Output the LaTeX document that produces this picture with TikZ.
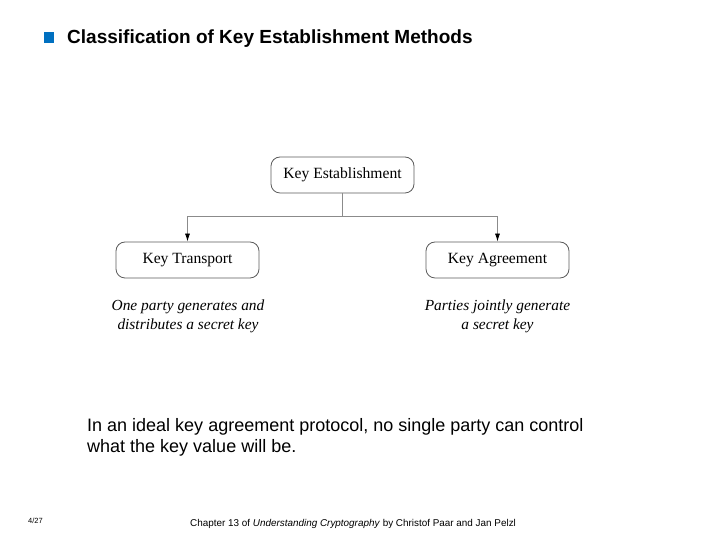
\documentclass[tikz,border=0pt]{standalone}
\usepackage{fontspec}
\setmainfont{Liberation Serif}
\setsansfont{Liberation Sans}
\usepackage{xcolor}
\usetikzlibrary{arrows.meta}
\definecolor{bulletblue}{RGB}{0,112,192}
\definecolor{boxgray}{RGB}{90,90,90}
\tikzset{
	methodbox/.style={draw=boxgray, line width=0.8pt, rounded corners=9pt, minimum width=143pt, minimum height=36pt, font=\fontsize{15.6}{18}\selectfont},
	note/.style={align=center, font=\fontsize{15.4}{19}\selectfont\itshape},
	link/.style={draw=boxgray!70, line width=0.8pt},
}

\begin{document}
\begin{tikzpicture}[x=1pt, y=1pt]
	\useasboundingbox (0, 0) rectangle (720, 540);
	% title
	\fill[bulletblue] (44, 497) rectangle (54, 508);
	\node[anchor=base west, inner sep=0pt, font=\sffamily\bfseries\fontsize{19}{22}\selectfont] (title) at (67, 496) {Classification of Key Establishment Methods};

	\node[methodbox] (est) at (342.5, 365) {Key Establishment};
	\node[methodbox] (trans) at (187.5, 280) {Key Transport};
	\node[methodbox] (agree) at (497.5, 280) {Key Agreement};
	\coordinate (split) at (342.5, 324);

	\draw[link] (est.south) -- (split);
	\draw[link, -{Latex[length=8pt, width=5pt, black]}] (split) -| (trans.north);
	\draw[link, -{Latex[length=8pt, width=5pt, black]}] (split) -| (agree.north);

	\node[note] (transnote) at (188, 224) {One party generates and\\distributes a secret key};
	\node[note] (agreenote) at (497.5, 224) {Parties jointly generate\\a secret key};

	\node[anchor=base west, inner sep=0pt, font=\sffamily\fontsize{18}{21}\selectfont] (remark) at (87, 108) {In an ideal key agreement protocol, no single party can control};
	\node[anchor=base west, inner sep=0pt, font=\sffamily\fontsize{18}{21}\selectfont] (remark2) at (87, 87) {what the key value will be.};

	% footer
	\node[anchor=base west, inner sep=0pt, font=\sffamily\fontsize{7.5}{9}\selectfont] (page) at (28, 16) {4/27};
	\node[anchor=base west, inner sep=0pt, font=\sffamily\fontsize{9.9}{11}\selectfont] (source) at (190, 13) {Chapter 13 of \textit{Understanding Cryptography} by Christof Paar and Jan Pelzl};
\end{tikzpicture}
\end{document}
